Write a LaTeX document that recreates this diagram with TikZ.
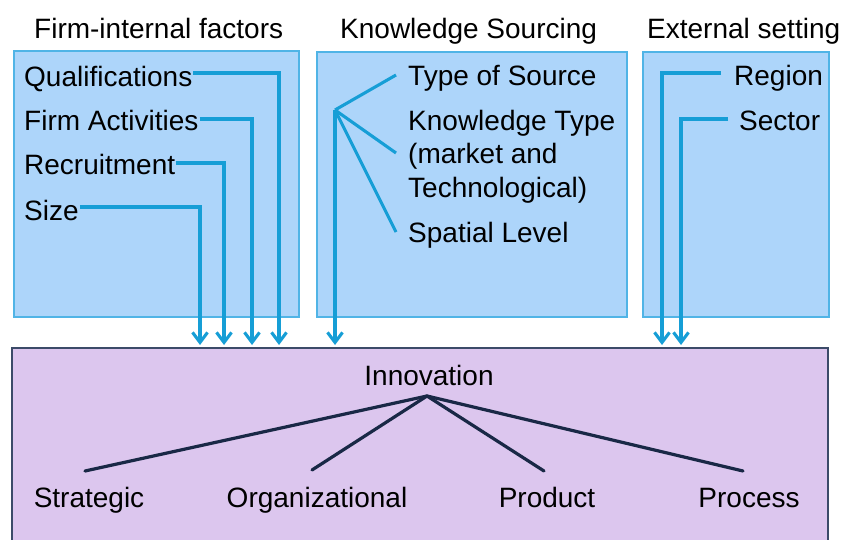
\documentclass[tikz,border=0pt]{standalone}
\usepackage{fontspec}
\setmainfont{Liberation Sans}
\usetikzlibrary{arrows.meta,calc}
\definecolor{boxfill}{RGB}{173,213,250}
\definecolor{boxline}{RGB}{80,180,230}
\definecolor{conncol}{RGB}{22,158,214}
\definecolor{innofill}{RGB}{220,198,238}
\definecolor{innoline}{RGB}{60,75,105}
\definecolor{treecol}{RGB}{25,40,70}
\tikzset{
  x=1pt, y=-1pt,
  txt/.style={inner sep=0pt, anchor=base west, font=\fontsize{28}{33}\selectfont, text=black},
  ctxt/.style={inner sep=0pt, anchor=base, font=\fontsize{28}{33}\selectfont, text=black},
  factorbox/.style={draw=boxline, fill=boxfill, line width=1.8pt},
  innobox/.style={draw=innoline, fill=innofill, line width=1.8pt},
  conn/.style={draw=conncol, line width=3.1pt},
  arr/.style={conn, -{Straight Barb[length=10pt,width=15pt]}},
  tree/.style={draw=treecol, line width=3.2pt, line cap=round},
}
\begin{document}
\begin{tikzpicture}
\clip (0,0) rectangle (843,540);
\fill[white] (0,0) rectangle (843,540);

% boxes
\draw[factorbox] (14,51) rectangle (299,317);
\draw[factorbox] (317,52) rectangle (627,317);
\draw[factorbox] (643,52) rectangle (829,317);
\draw[innobox] (12,348) rectangle (828,560);

% titles
\node[txt] (t1) at (34,39) {Firm-internal factors};
\node[txt] (t2) at (340,39) {Knowledge Sourcing};
\node[txt] (t3) at (647,39) {External setting};

% left items
\node[txt] (q) at (24,87) {Qualifications};
\node[txt] (fa) at (24,131) {Firm Activities};
\node[txt] (rc) at (24,175) {Recruitment};
\node[txt] (sz) at (24,220) {Size};

% middle items
\node[txt] (ts) at (408,86) {Type of Source};
\node[txt] (kt1) at (408,131) {Knowledge Type};
\node[txt] (kt2) at (408,164) {(market and};
\node[txt] (kt3) at (408,197) {Technological)};
\node[txt] (sl) at (408,242) {Spatial Level};

% right items
\node[txt] (rg) at (734,86) {Region};
\node[txt] (sc) at (739,131) {Sector};

% bottom
\node[ctxt] (inn) at (429,385) {Innovation};
\node[ctxt] (st) at (89,507) {Strategic};
\node[ctxt] (org) at (317,507) {Organizational};
\node[ctxt] (pd) at (547,507) {Product};
\node[ctxt] (pc) at (749,507) {Process};

% arrow end coordinates
\coordinate (aq) at (279,345);
\coordinate (afa) at (252,345);
\coordinate (arc) at (224,345);
\coordinate (asz) at (200,345);
\coordinate (aks) at (335,345);
\coordinate (arg) at (662,345);
\coordinate (asc) at (681,345);

% left connectors
\draw[arr] ($(q.base east)+(1,-14)$) -| (aq);
\draw[arr] ($(fa.base east)+(1,-12)$) -| (afa);
\draw[arr] ($(rc.base east)+(1,-12)$) -| (arc);
\draw[arr] ($(sz.base east)+(1,-13)$) -| (asz);

% middle fan
\coordinate (apex) at (335,110);
\coordinate (e1) at (396,75);
\coordinate (e2) at (396,153);
\coordinate (e3) at (396,232);
\draw[conn] (apex) -- (e1);
\draw[conn] (apex) -- (e2);
\draw[conn] (apex) -- (e3);
\draw[arr] (apex) -- (aks);

% right connectors
\coordinate (rgs) at (721,73);
\coordinate (scs) at (728,119);
\draw[arr] (rgs) -| (arg);
\draw[arr] (scs) -| (asc);

% innovation tree
\coordinate (ia) at (427,396);
\coordinate (b1) at (85,471);
\coordinate (b2) at (312,470);
\coordinate (b3) at (544,471);
\coordinate (b4) at (743,471);
\draw[tree] (ia) -- (b1);
\draw[tree] (ia) -- (b2);
\draw[tree] (ia) -- (b3);
\draw[tree] (ia) -- (b4);
\end{tikzpicture}
\end{document}
